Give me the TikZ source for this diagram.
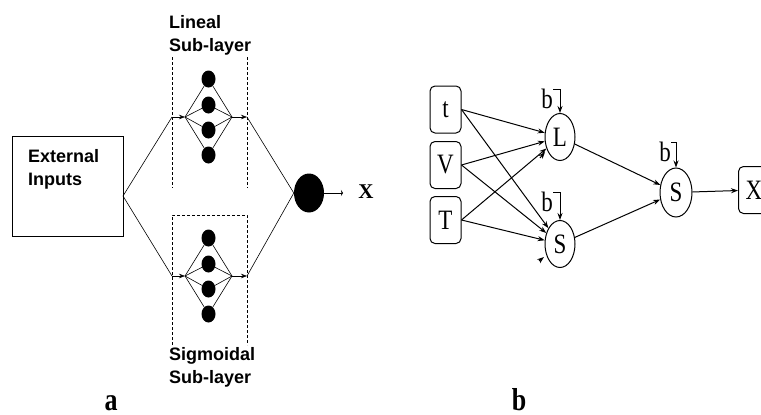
\documentclass[tikz,border=0pt]{standalone}
\usepackage{fontspec}
\setmainfont{Liberation Serif}
\newfontfamily\helvfont{Liberation Sans}
\usepackage{graphicx}
\usepackage{tikz}
\usetikzlibrary{arrows.meta,positioning,shapes.geometric,calc}
\newcommand{\tall}[1]{\scalebox{1}[1.22]{#1}}
\tikzset{
  neuron/.style={ellipse,fill=black,inner sep=0pt,minimum width=14pt,minimum height=17pt},
  sublabel/.style={font=\helvfont\bfseries\fontsize{18}{23}\selectfont,align=left,inner sep=0pt},
  thinarr/.style={-{Stealth[length=6pt,width=4.5pt]}},
  arr/.style={-{Stealth[length=7pt,width=5pt]},line width=1pt},
  var/.style={draw,rounded corners=5pt,line width=1pt,minimum width=31pt,minimum height=47pt,inner sep=0pt,font=\fontsize{23}{28}\selectfont},
  unit/.style={draw,ellipse,line width=1pt,minimum width=30pt,minimum height=47pt,inner sep=0pt,font=\fontsize{23}{28}\selectfont},
  bias/.style={inner sep=0pt,anchor=north east,font=\fontsize{23}{28}\selectfont},
  panel/.style={anchor=base,inner sep=0pt,font=\bfseries\fontsize{26}{30}\selectfont}
}

\begin{document}
\begin{tikzpicture}[x=1pt,y=-1pt]
  \useasboundingbox (0,0) rectangle (761,415);
  \clip (0,0) rectangle (761,415);
  % panel a
  \node[draw,line width=0.8pt,minimum width=111pt,minimum height=100pt,inner sep=0pt] (ext) at (67.5,186) {};
  \node[sublabel,anchor=north west] (exttxt) at (28,149) {External\\Inputs};
  \coordinate (fork) at (123,196);
  \node[sublabel,anchor=north west] (linlbl) at (169,15) {Lineal\\Sub-layer};
  \node[sublabel,anchor=north west] (siglbl) at (169,347) {Sigmoidal\\Sub-layer};
  \draw[densely dashed,line width=0.6pt] (172,57) -- (172,188) (247,57) -- (247,188);
  \draw[densely dashed,line width=0.6pt] (172,345) -- (172,215) -- (247,215) -- (247,345);
  \foreach \name/\yc in {u/117,s/276}{
    \coordinate (\name L) at (172,\yc);
    \coordinate (\name in) at (185,\yc);
    \coordinate (\name out) at (232,\yc);
    \coordinate (\name R) at (247,\yc);
    \foreach \i/\dy in {1/-38,2/-12,3/13,4/38}{
      \node[neuron] (\name\i) at (208.5,\yc+\dy) {};
      \draw[line width=0.6pt] (\name in) -- (\name\i) -- (\name out);
    }
    \draw[line width=0.6pt] (fork) -- (\name L);
    \draw[thinarr,line width=0.6pt] (\name L) -- (\name in);
    \draw[thinarr,line width=0.6pt] (\name out) -- (\name R);
  }
  \node[ellipse,fill=black,inner sep=0pt,minimum width=30pt,minimum height=39pt] (outn) at (309,193) {};
  \draw[line width=0.6pt] (uR) -- (outn.west) -- (sR);
  \coordinate (xend) at (343,193);
  \draw[-{Stealth[length=2pt,width=6pt]},line width=0.6pt] (outn.east) -- (xend);
  \node[font=\bfseries\fontsize{21}{24}\selectfont] (xa) at (366,192) {X};
  \node[panel] (pa) at (111,410) {\tall{a}};
  % panel b
  \node[var] (t) at (445.5,109.5) {\tall{t}};
  \node[var] (V) at (445.5,165) {\tall{V}};
  \node[var] (T) at (445.5,220) {\tall{T}};
  \node[unit] (L) at (560,137) {\tall{L}};
  \node[unit] (S1) at (560,244) {\tall{S}};
  \node[unit,minimum width=32pt,minimum height=49pt] (S2) at (676,192.5) {\tall{S}};
  \node[var] (X) at (754,190) {\tall{X}};
  \foreach \src in {t,V,T}{
    \draw[arr] (\src.east) -- (L);
    \draw[arr] (\src.east) -- (S1);
  }
  \draw[arr] ([shift={(-20,21)}]L.center) -- ([shift={(-15,15)}]L.center);
  \draw[arr] ([shift={(-21,17)}]S1.center) -- ([shift={(-16,13)}]S1.center);
  \draw[arr] (L) -- (S2);
  \draw[arr] (S1) -- (S2);
  \draw[arr] (S2) -- (X);
  \node[bias] (bL) at (553,89) {\tall{b}};
  \node[bias] (bS1) at (553,192) {\tall{b}};
  \node[bias] (bS2) at (671,142) {\tall{b}};
  \draw[arr] (bL.north east) -| (L.north);
  \draw[arr] (bS1.north east) -| (S1.north);
  \draw[arr] (bS2.north east) -| (S2.north);
  \node[panel] (pb) at (519,410) {\tall{b}};
\end{tikzpicture}
\end{document}
